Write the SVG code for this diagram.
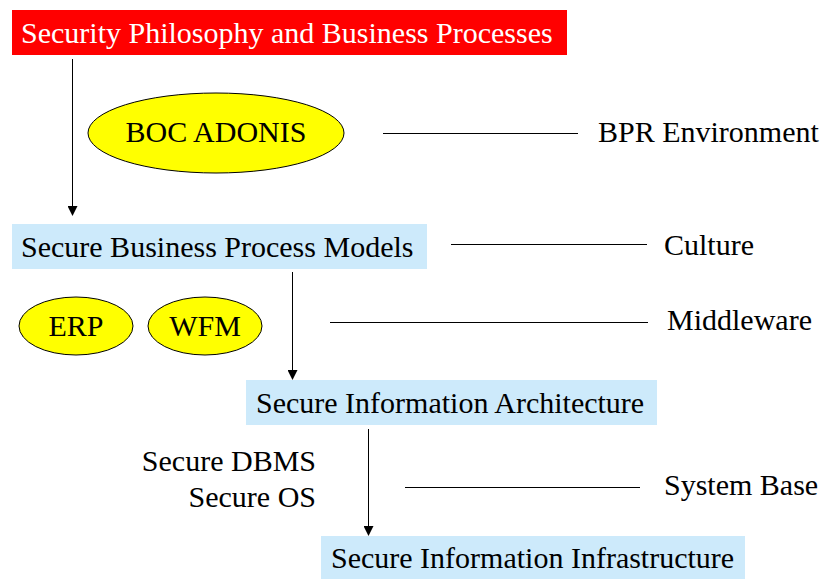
<svg xmlns="http://www.w3.org/2000/svg" width="822" height="579" viewBox="0 0 822 579">
<style>
.t{font-family:'Liberation Serif','Times New Roman',serif;font-size:30px;fill:#000}
.w{fill:#fff}
.red{fill:#ff0000}
.blue{fill:#cdeafb}
.ell{fill:#ffff00;stroke:#000;stroke-width:1}
.ln{stroke:#000;stroke-width:1;fill:none}
</style>
<defs>
<marker id="ah" markerWidth="10" markerHeight="10" refX="9" refY="5" orient="auto" markerUnits="userSpaceOnUse">
<path d="M0,0 L10,5 L0,10 Z" fill="#000"/>
</marker>
</defs>
<rect width="822" height="579" fill="#fff"/>
<g id="n-philosophy">
<rect class="red" x="12" y="10" width="555" height="45"/>
<text class="t w" x="21" y="43">Security Philosophy and Business Processes</text>
</g>
<g id="n-adonis">
<ellipse class="ell" cx="216" cy="133" rx="128" ry="40"/>
<text class="t" x="216" y="142" text-anchor="middle">BOC ADONIS</text>
</g>
<g id="n-bpr"><text class="t" x="598" y="142">BPR Environment</text></g>
<g id="n-models">
<rect class="blue" x="12" y="224" width="415" height="45"/>
<text class="t" x="21" y="257">Secure Business Process Models</text>
</g>
<g id="n-culture"><text class="t" x="664" y="255">Culture</text></g>
<g id="n-erp">
<ellipse class="ell" cx="76" cy="326" rx="57" ry="29"/>
<text class="t" x="76" y="336" text-anchor="middle">ERP</text>
</g>
<g id="n-wfm">
<ellipse class="ell" cx="205" cy="326" rx="57" ry="29"/>
<text class="t" x="205" y="336" text-anchor="middle">WFM</text>
</g>
<g id="n-middleware"><text class="t" x="667" y="330">Middleware</text></g>
<g id="n-architecture">
<rect class="blue" x="246" y="380" width="411" height="45"/>
<text class="t" x="256" y="413">Secure Information Architecture</text>
</g>
<g id="n-dbms">
<text class="t" x="316" y="471" text-anchor="end">Secure DBMS</text>
<text class="t" x="316" y="507" text-anchor="end">Secure OS</text>
</g>
<g id="n-systembase"><text class="t" x="664" y="495">System Base</text></g>
<g id="n-infrastructure">
<rect class="blue" x="321" y="536" width="424" height="43"/>
<text class="t" x="331" y="568">Secure Information Infrastructure</text>
</g>
<g id="connectors">
<line class="ln" x1="72.5" y1="59" x2="72.5" y2="215" marker-end="url(#ah)"/>
<line class="ln" x1="292.5" y1="272" x2="292.5" y2="379" marker-end="url(#ah)"/>
<line class="ln" x1="368.5" y1="429" x2="368.5" y2="535" marker-end="url(#ah)"/>
<line class="ln" x1="383" y1="133.5" x2="578" y2="133.5"/>
<line class="ln" x1="451" y1="244.5" x2="647" y2="244.5"/>
<line class="ln" x1="330" y1="322.5" x2="648" y2="322.5"/>
<line class="ln" x1="405" y1="487.5" x2="640" y2="487.5"/>
</g>
</svg>
